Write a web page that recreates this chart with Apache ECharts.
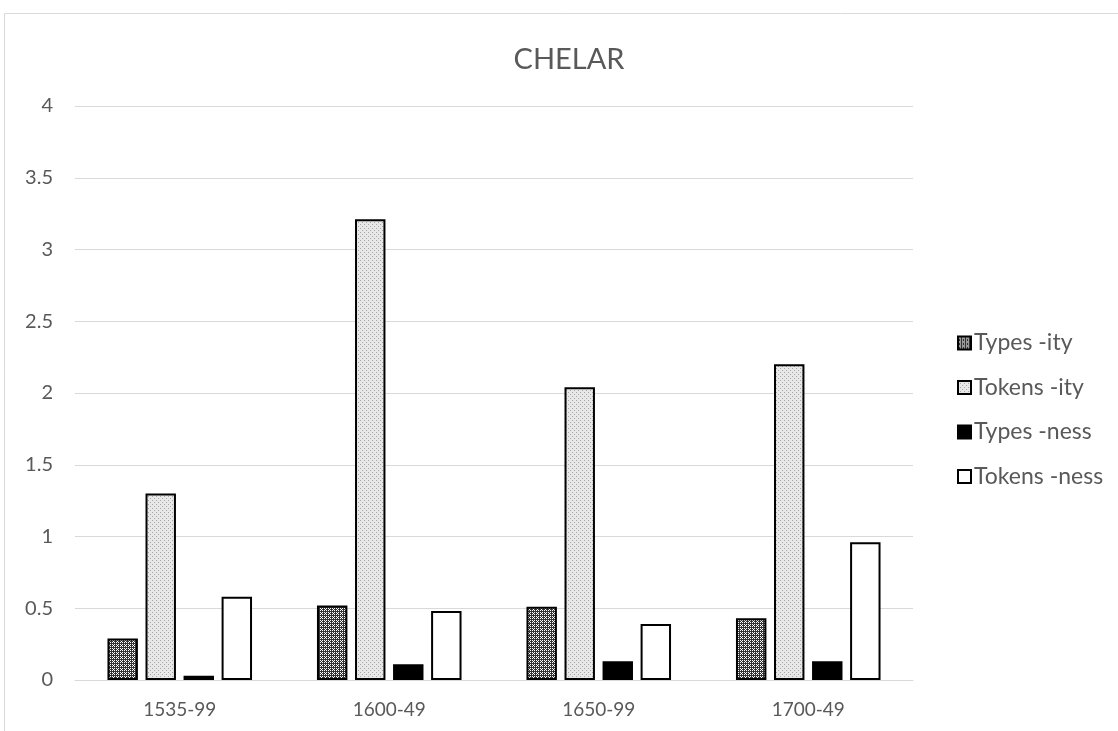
<!DOCTYPE html>
<html><head><meta charset="utf-8">
<script src="https://cdn.jsdelivr.net/npm/echarts@6/dist/echarts.min.js"></script>
<style>html,body{margin:0;padding:0;background:#fff}#c{width:1118px;height:731px}</style>
</head><body><div id="c"></div>
<script>
const categories = ['1535-99', '1600-49', '1650-99', '1700-49'];
const typesIty = [0.29, 0.52, 0.51, 0.43];
const tokensIty = [1.30, 3.21, 2.04, 2.20];
const typesNess = [0.03, 0.11, 0.13, 0.13];
const tokensNess = [0.58, 0.48, 0.39, 0.96];
const yTicks = [0, 0.5, 1, 1.5, 2, 2.5, 3, 3.5, 4];

function makePattern(bg, fg, pts, size) {
  const c = document.createElement('canvas');
  c.width = size; c.height = size;
  const g = c.getContext('2d');
  g.fillStyle = bg; g.fillRect(0, 0, size, size);
  g.fillStyle = fg;
  pts.forEach(p => g.fillRect(p[0], p[1], 1, 1));
  return { image: c, repeat: 'repeat' };
}
const darkPat = makePattern('#333333', '#ffffff', [[0,0],[2,0],[0,2],[2,2],[1,1]], 4);
const lightPat = makePattern('#e8e8e8', '#a6a6a6', [[0,0],[2,2]], 4);

const chart = echarts.init(document.getElementById('c'));
const font = 'Lato, "Open Sans", sans-serif';
const names = ['Types -ity', 'Tokens -ity', 'Types -ness', 'Tokens -ness'];
const fills = [darkPat, lightPat, '#000000', '#ffffff'];
const data = [typesIty, tokensIty, typesNess, tokensNess];

chart.setOption({
  animation: false,
  textStyle: { fontFamily: font },
  title: {
    text: 'CHELAR', top: 40, left: 564, textAlign: 'center',
    textStyle: { fontFamily: font, fontSize: 29, fontWeight: 'normal', color: '#595959' }
  },
  graphic: [{
    type: 'rect', silent: true, z: -1,
    shape: { x: 4.5, y: 13.5, width: 1300, height: 900 },
    style: { fill: 'none', stroke: '#d9d9d9', lineWidth: 1 }
  }],
  legend: {
    orient: 'vertical', left: 952, top: 326, itemGap: 20.5,
    itemWidth: 13, itemHeight: 13, icon: 'rect',
    textStyle: { fontFamily: font, fontSize: 23, lineHeight: 24, color: '#595959', padding: [0, 0, 0, -2] },
    data: names
  },
  grid: { left: 75, right: 205, top: 106, bottom: 51, containLabel: false },
  xAxis: {
    type: 'category', data: categories,
    axisLine: { lineStyle: { color: '#d9d9d9', width: 1 } },
    axisTick: { show: false },
    axisLabel: { color: '#595959', fontSize: 19, margin: 20, fontFamily: font }
  },
  yAxis: {
    type: 'value', min: 0, max: 4, interval: 0.5,
    axisLine: { show: false }, axisTick: { show: false },
    axisLabel: { color: '#595959', fontSize: 20, margin: 22, fontFamily: font,
      formatter: v => (yTicks.includes(v) ? String(v) : '') },
    splitLine: { lineStyle: { color: '#d9d9d9', width: 1 } }
  },
  series: names.map((n, i) => ({
    name: n, type: 'bar', data: data[i],
    barGap: '25%', barCategoryGap: '31%',
    itemStyle: { color: fills[i], borderColor: '#000', borderWidth: 2 }
  }))
});
</script></body></html>
